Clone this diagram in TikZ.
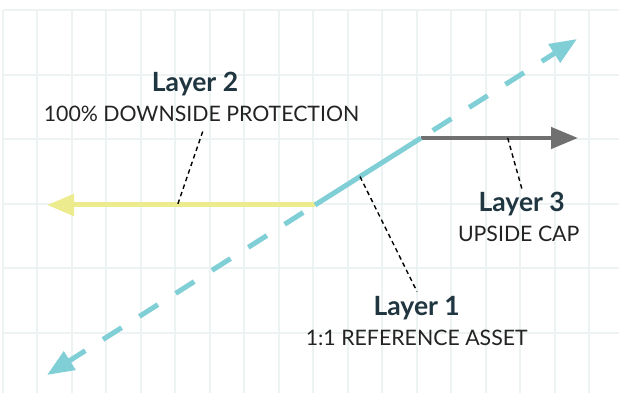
\documentclass[tikz,border=0pt]{standalone}
\usepackage{fontspec}
\setmainfont{Lato}
\usepackage{tikz}
\usetikzlibrary{arrows.meta}
\usetikzlibrary{positioning}
\definecolor{gridgray}{RGB}{237,242,243}
\definecolor{assetcyan}{RGB}{128,207,214}
\definecolor{floorYellow}{RGB}{236,236,142}
\definecolor{capgray}{RGB}{112,112,112}
\definecolor{titleblue}{RGB}{31,53,64}
\definecolor{captiongray}{RGB}{35,35,35}

\begin{document}
\begin{tikzpicture}[x=1pt,y=-1pt,>={Triangle[length=27pt,width=21pt]},
			line cap=butt,node distance=30pt]
			\tikzstyle{gridline}=[draw=gridgray,line width=2pt]
			\tikzstyle{payoff}=[line width=5pt]
			\tikzstyle{upside}=[payoff,draw=assetcyan,dash pattern=on 22pt off 21pt,dash phase=29pt]
			\tikzstyle{leader}=[draw=black,line width=1.4pt,dash pattern=on 4.5pt off 3.5pt]
			\tikzstyle{layer}=[font=\bfseries\fontsize{26.5}{30}\selectfont,text=titleblue,anchor=base,inner sep=0pt]
			\tikzstyle{caption}=[font=\fontsize{21.3}{24}\selectfont,text=captiongray,inner sep=0pt]

			\fill[white] (0,0) rectangle (619,393);
			\useasboundingbox (0,0) rectangle (619,393);
			% background grid
			\foreach \i in {0,...,17}
				\draw[gridline] (2.5+34.5*\i,10) -- (2.5+34.5*\i,393);
			\foreach \j in {0,...,5}
				\draw[gridline] (2.5,10+64.6*\j) -- (619,10+64.6*\j);

			\coordinate (strike) at (315,205);
			\coordinate (cap)    at (421,138);
			\coordinate (down)   at (47,375);
			\coordinate (up)     at (577,39);
			\coordinate (floor)  at (47,205);
			\coordinate (capend) at (578,138);

			\path
			(strike) edge [upside,->] (down)
			(cap)    edge [upside,->] (up)
			(strike) edge [payoff,draw=floorYellow,->] (floor)
			(cap)    edge [payoff,draw=capgray,line width=4.5pt,->] (capend)
			(strike) edge [payoff,draw=assetcyan] (cap)
			;

			\node[layer] (l2) at (195,91.7) {Layer 2};
			\node[caption] (l2txt) [below=30.3pt of l2.base,anchor=base,xshift=6.5pt] {100\% DOWNSIDE PROTECTION};
			\node[layer] (l3) at (521.7,211.7) {Layer 3};
			\node[caption] (l3txt) [below=30pt of l3.base,anchor=base,xshift=-3pt] {UPSIDE CAP};
			\node[layer] (l1) at (416.7,315.2) {Layer 1};
			\node[caption] (l1txt) [below=30.5pt of l1.base,anchor=base] {1:1 REFERENCE ASSET};

			\coordinate (l2pin) at (177.5,205);
			\coordinate (l2top) at (202.7,131.5);
			\coordinate (l3pin) at (507.7,138);
			\coordinate (l3top) at (522.5,191);
			\coordinate (l1pin) at (360,176.6);
			\coordinate (l1top) at (417,291.5);

			\path
			(l2top) edge [leader] (l2pin)
			(l3pin) edge [leader] (l3top)
			(l1pin) edge [leader] (l1top)
			;
\end{tikzpicture}
\end{document}
